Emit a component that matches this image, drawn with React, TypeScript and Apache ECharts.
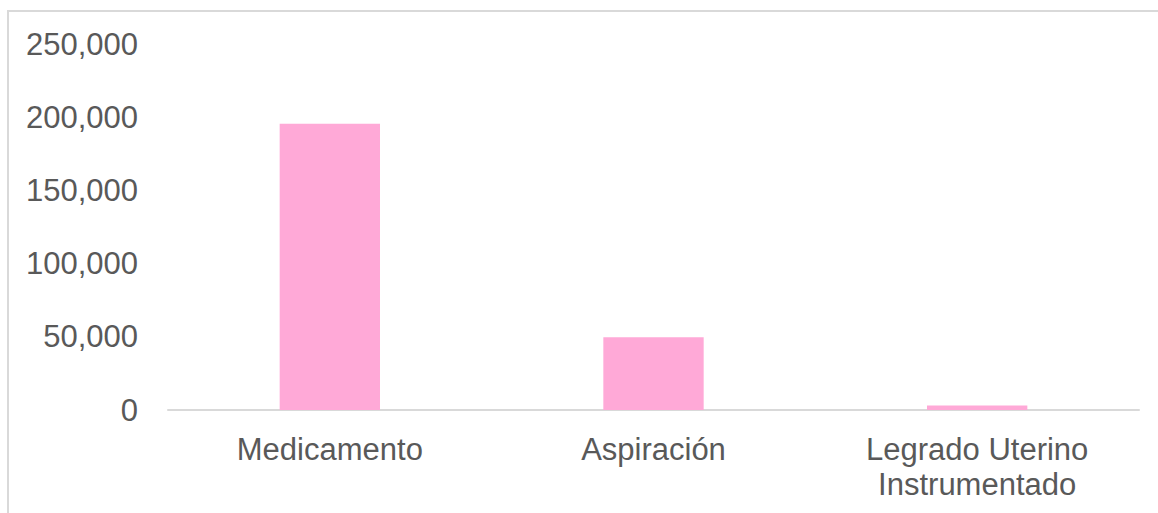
import React, { useEffect, useRef } from "react";
import * as echarts from "echarts";

const categories: string[] = ["Medicamento", "Aspiración", "Legrado Uterino\nInstrumentado"];
const values: number[] = [195600, 49700, 3000];
const yTicks: number[] = [0, 50000, 100000, 150000, 200000, 250000];

export default function App() {
  const ref = useRef<HTMLDivElement>(null);
  useEffect(() => {
    if (!ref.current) return;
    const chart = echarts.init(ref.current, undefined, { renderer: "svg" });
    const textColor = "#595959";
    const font = "'Liberation Sans', Arial, sans-serif";
    chart.setOption({
      animation: false,
      backgroundColor: "#ffffff",
      graphic: [
        {
          type: "rect",
          shape: { x: 8, y: 11, width: 1200, height: 600 },
          style: { fill: "none", stroke: "#d9d9d9", lineWidth: 2 },
          silent: true,
          z: -10,
        },
      ],
      grid: { left: 168, right: 19, top: 44, bottom: 103 },
      xAxis: {
        type: "category",
        data: categories,
        axisLine: { show: true, lineStyle: { color: "#d9d9d9", width: 2 } },
        axisTick: { show: false },
        axisLabel: {
          color: textColor,
          fontSize: 31,
          fontFamily: font,
          margin: 22,
          lineHeight: 35,
          interval: 0,
        },
      },
      yAxis: {
        type: "value",
        min: yTicks[0],
        max: yTicks[yTicks.length - 1],
        interval: yTicks[1] - yTicks[0],
        axisLine: { show: false },
        axisTick: { show: false },
        splitLine: { show: false },
        axisLabel: {
          color: textColor,
          fontSize: 31,
          fontFamily: font,
          margin: 30,
          formatter: (v: number) => v.toLocaleString("en-US"),
        },
      },
      series: [
        {
          type: "bar",
          data: values,
          barWidth: "31%",
          itemStyle: { color: "#ffa9d7" },
        },
      ],
    });
    return () => chart.dispose();
  }, []);
  return (
    <div
      ref={ref}
      style={{ position: "fixed", left: 0, top: 0, width: 1158, height: 513 }}
    />
  );
}
